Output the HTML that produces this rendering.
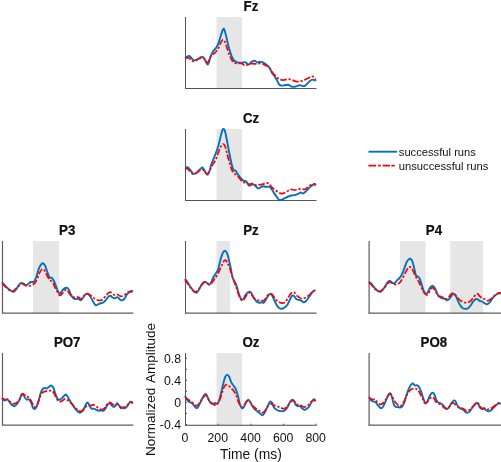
<!DOCTYPE html>
<html><head><meta charset="utf-8"><title>ERP</title>
<style>html,body{margin:0;padding:0;background:#fff;}body{width:501px;height:462px;overflow:hidden;}svg{display:block;will-change:transform;}text{font-family:"Liberation Sans",sans-serif;fill:#111;}</style>
</head><body>
<svg width="501" height="462" viewBox="0 0 501 462">
<rect x="0" y="0" width="501" height="462" fill="#ffffff"/>
<g>
<rect x="216.5" y="17.0" width="25.5" height="71.5" fill="#E6E6E6"/>
<path d="M185.5 17.0 V89.0" fill="none" stroke="#555555" stroke-width="1.0"/>
<path d="M185.0 88.5 H316.5" fill="none" stroke="#555555" stroke-width="1.0"/>
<path d="M184.9 58.0C185.6 57.6 187.7 56.0 188.7 55.9C189.7 55.8 190.3 56.9 191.1 57.6C191.9 58.3 192.6 59.9 193.6 60.2C194.6 60.6 195.7 60.1 196.8 59.7C197.9 59.3 199.1 58.1 200.1 57.6C201.1 57.1 202.0 56.5 202.8 56.9C203.6 57.2 204.1 58.4 204.9 59.7C205.7 61.0 206.7 64.1 207.4 64.5C208.1 64.9 208.5 63.5 209.0 62.1C209.5 60.8 209.9 58.2 210.6 56.4C211.3 54.6 212.1 53.0 213.0 51.5C213.9 50.0 215.4 49.0 216.3 47.5C217.2 46.0 217.9 44.8 218.7 42.6C219.5 40.4 220.4 36.8 221.2 34.5C222.0 32.2 222.7 29.4 223.3 28.8C223.9 28.2 224.3 29.4 224.9 31.2C225.5 33.0 226.2 36.4 226.9 39.4C227.6 42.4 228.5 46.3 229.3 49.1C230.1 51.9 230.9 54.5 231.7 56.4C232.5 58.3 233.2 59.5 234.2 60.5C235.1 61.5 236.2 62.0 237.4 62.4C238.6 62.8 240.3 62.9 241.5 62.9C242.7 62.9 243.8 62.0 244.7 62.1C245.6 62.2 246.5 63.3 247.2 63.7C247.9 64.1 248.1 64.8 248.8 64.5C249.5 64.2 250.6 62.6 251.2 62.1C251.8 61.6 251.8 61.5 252.4 61.3C253.0 61.1 254.1 60.6 254.9 60.8C255.7 61.0 256.5 62.2 257.3 62.4C258.1 62.6 258.9 61.8 259.7 61.8C260.5 61.8 261.4 61.8 262.2 62.1C263.0 62.4 263.8 62.9 264.6 63.4C265.4 63.9 266.3 64.6 267.1 65.3C267.9 66.0 268.7 66.6 269.5 67.8C270.3 69.0 271.1 71.3 271.9 72.7C272.7 74.1 273.6 74.7 274.4 75.9C275.2 77.1 276.0 78.6 276.8 80.0C277.6 81.4 278.4 83.6 279.2 84.5C280.0 85.4 280.8 85.5 281.7 85.6C282.6 85.7 283.8 85.3 284.9 85.2C286.0 85.1 287.2 84.7 288.2 84.8C289.1 84.9 289.8 85.8 290.6 86.1C291.4 86.4 292.2 86.8 293.0 86.9C293.8 87.0 294.7 86.7 295.5 86.5C296.3 86.3 297.1 85.8 297.9 85.6C298.7 85.4 299.5 85.1 300.3 85.2C301.1 85.3 302.0 86.0 302.8 86.1C303.6 86.2 304.4 86.1 305.2 85.6C306.0 85.1 306.9 84.0 307.7 83.2C308.5 82.4 309.3 81.4 310.1 80.8C310.9 80.2 311.7 79.7 312.5 79.6C313.3 79.5 314.4 80.2 315.0 80.3C315.6 80.4 316.1 80.0 316.3 80.0" fill="none" stroke="#0072BD" stroke-width="1.90" stroke-linejoin="round"/>
<path d="M185.0 58.5C185.5 58.4 187.0 57.5 187.9 57.6C188.8 57.7 189.5 58.6 190.3 59.2C191.1 59.8 191.8 61.1 192.7 61.3C193.6 61.5 194.9 61.0 196.0 60.5C197.1 60.0 198.1 59.0 199.2 58.5C200.3 58.0 201.6 57.4 202.5 57.6C203.4 57.8 204.2 58.8 204.9 59.7C205.7 60.6 206.3 62.8 207.0 62.9C207.7 63.0 208.3 61.7 209.0 60.5C209.7 59.3 210.5 56.8 211.4 55.6C212.3 54.4 213.6 54.3 214.7 53.2C215.8 52.1 216.9 50.7 217.9 49.1C218.9 47.5 219.6 45.0 220.4 43.4C221.2 41.8 222.1 40.0 222.8 39.7C223.6 39.4 224.2 40.5 224.9 41.8C225.6 43.1 226.2 45.3 226.9 47.5C227.6 49.7 228.5 52.8 229.3 54.8C230.1 56.8 230.9 58.4 231.7 59.7C232.5 61.1 233.2 62.3 234.2 62.9C235.1 63.5 236.2 63.3 237.4 63.4C238.6 63.5 240.3 63.1 241.5 63.4C242.7 63.7 243.8 65.0 244.7 65.3C245.6 65.6 246.2 65.3 247.2 65.0C248.1 64.7 249.4 63.9 250.4 63.7C251.4 63.5 252.2 63.7 253.2 63.7C254.2 63.8 255.4 64.0 256.5 64.0C257.6 64.0 258.6 63.4 259.7 63.4C260.8 63.4 261.9 63.6 263.0 64.0C264.1 64.4 265.1 65.1 266.2 65.7C267.3 66.3 268.6 66.8 269.5 67.8C270.4 68.8 271.1 70.6 271.9 71.8C272.7 73.0 273.6 73.9 274.4 74.8C275.2 75.7 276.0 76.3 276.8 77.0C277.6 77.7 278.2 78.7 279.2 79.2C280.1 79.7 281.4 79.9 282.5 80.0C283.6 80.1 284.6 79.7 285.7 79.6C286.8 79.5 287.9 79.1 289.0 79.2C290.1 79.3 291.1 79.7 292.2 80.0C293.3 80.3 294.4 81.0 295.5 81.3C296.6 81.6 297.6 81.7 298.7 81.6C299.8 81.5 300.9 81.1 302.0 80.8C303.1 80.5 304.1 80.1 305.2 79.6C306.3 79.1 307.4 78.5 308.5 78.0C309.6 77.5 310.8 76.6 311.7 76.4C312.6 76.2 313.0 76.5 313.7 77.0C314.4 77.5 315.4 78.8 315.8 79.2" fill="none" stroke="#FF0000" stroke-width="1.75" stroke-dasharray="6.4 1.8 2.3 1.8" stroke-linejoin="round"/>
<text transform="translate(251.0 10.6) scale(1 1.06)" font-size="13.3" font-weight="bold" text-anchor="middle" fill="#000" stroke="#000" stroke-width="0.2">Fz</text>
</g>
<g>
<rect x="216.5" y="129.0" width="25.5" height="71.5" fill="#E6E6E6"/>
<path d="M185.5 129.0 V201.0" fill="none" stroke="#555555" stroke-width="1.0"/>
<path d="M185.0 200.5 H316.5" fill="none" stroke="#555555" stroke-width="1.0"/>
<path d="M184.9 167.6C185.4 167.6 187.0 166.9 187.9 167.3C188.8 167.7 189.4 168.9 190.3 170.0C191.2 171.1 192.5 173.4 193.6 173.8C194.7 174.2 195.7 173.3 196.8 172.5C197.9 171.7 199.2 170.0 200.1 169.2C201.0 168.4 201.7 167.3 202.5 167.6C203.3 167.9 204.1 170.0 204.9 171.2C205.7 172.4 206.7 174.8 207.4 174.9C208.1 175.0 208.6 173.4 209.3 171.7C210.0 169.9 210.5 167.0 211.4 164.4C212.3 161.8 213.6 159.0 214.7 156.2C215.8 153.3 216.9 150.4 217.9 147.3C218.9 144.2 219.7 140.4 220.4 137.6C221.1 134.8 221.8 131.6 222.3 130.2C222.8 128.8 223.2 128.8 223.6 128.9C224.0 129.1 224.3 129.2 224.9 131.1C225.5 132.9 226.2 136.3 226.9 140.0C227.6 143.7 228.5 148.9 229.3 153.0C230.1 157.1 231.0 161.6 231.7 164.4C232.4 167.2 233.0 168.9 233.7 170.0C234.4 171.1 235.1 170.1 235.8 170.9C236.6 171.7 237.2 173.6 238.2 174.9C239.1 176.2 240.6 178.0 241.5 179.0C242.4 180.0 243.1 180.5 243.9 180.9C244.7 181.3 245.5 180.6 246.3 181.4C247.1 182.2 248.0 184.9 248.8 185.5C249.6 186.1 250.3 185.3 250.9 185.1C251.5 184.9 251.7 184.1 252.4 184.2C253.1 184.3 253.9 184.8 254.9 185.5C255.9 186.2 257.2 188.1 258.1 188.4C259.1 188.7 259.8 187.8 260.6 187.4C261.4 187.1 262.1 186.4 263.0 186.3C263.9 186.2 265.1 186.7 266.2 186.8C267.3 186.9 268.6 186.4 269.5 186.8C270.4 187.2 271.1 188.4 271.9 189.5C272.7 190.6 273.6 192.4 274.4 193.6C275.2 194.8 276.0 195.7 276.8 196.8C277.6 197.9 278.4 199.6 279.2 200.1C280.0 200.6 280.8 200.1 281.7 199.8C282.6 199.5 283.8 198.7 284.9 198.1C286.0 197.5 287.1 196.9 288.2 196.5C289.3 196.1 290.3 195.7 291.4 195.5C292.5 195.3 293.6 195.5 294.7 195.2C295.8 194.9 296.9 194.3 297.9 193.9C298.9 193.5 299.9 192.6 300.7 192.5C301.5 192.4 302.1 193.7 302.8 193.6C303.6 193.5 304.4 192.7 305.2 192.0C306.0 191.3 306.9 190.3 307.7 189.5C308.5 188.7 309.3 187.8 310.1 187.1C310.9 186.4 311.7 185.6 312.5 185.1C313.3 184.6 314.4 184.3 315.0 184.2C315.6 184.1 316.1 184.6 316.3 184.7" fill="none" stroke="#0072BD" stroke-width="1.90" stroke-linejoin="round"/>
<path d="M185.0 168.4C185.5 168.5 187.0 168.4 187.9 168.9C188.8 169.4 189.4 170.8 190.3 171.7C191.2 172.6 192.2 173.8 193.1 174.1C194.0 174.4 195.0 173.8 196.0 173.3C197.0 172.8 198.1 171.5 199.2 170.9C200.3 170.3 201.6 169.4 202.5 169.6C203.4 169.8 204.1 171.4 204.9 172.2C205.7 172.9 206.6 174.5 207.4 174.1C208.2 173.7 209.0 171.5 209.8 170.0C210.6 168.5 211.2 166.8 212.2 165.2C213.1 163.6 214.6 162.2 215.5 160.3C216.4 158.4 217.1 156.0 217.9 153.8C218.7 151.6 219.6 148.9 220.4 147.3C221.2 145.7 222.1 144.4 222.8 144.1C223.6 143.8 224.2 144.2 224.9 145.7C225.6 147.2 226.2 150.3 226.9 153.0C227.6 155.7 228.5 159.1 229.3 161.9C230.1 164.7 230.9 167.7 231.7 169.6C232.5 171.5 233.2 172.3 234.2 173.3C235.1 174.3 236.3 174.6 237.4 175.7C238.5 176.8 239.8 178.7 240.7 179.8C241.6 180.9 242.2 181.7 243.1 182.2C244.0 182.7 245.2 182.7 246.3 183.0C247.4 183.3 248.4 184.1 249.6 184.2C250.8 184.3 252.0 183.3 253.2 183.5C254.3 183.7 255.4 185.3 256.5 185.5C257.6 185.7 258.6 184.9 259.7 184.7C260.8 184.5 261.9 184.5 263.0 184.2C264.1 183.9 265.2 183.1 266.2 183.0C267.2 182.9 268.2 183.1 269.2 183.8C270.1 184.5 270.9 186.4 271.9 187.4C272.9 188.4 274.1 189.2 275.2 190.0C276.3 190.8 277.3 191.7 278.4 192.3C279.5 192.9 280.6 193.5 281.7 193.6C282.8 193.7 283.8 193.3 284.9 192.8C286.0 192.3 287.1 191.2 288.2 190.7C289.3 190.1 290.3 189.6 291.4 189.5C292.5 189.4 293.6 190.0 294.7 190.0C295.8 190.0 296.8 189.7 297.9 189.5C299.0 189.3 300.1 188.7 301.2 188.7C302.3 188.7 303.3 189.7 304.4 189.5C305.5 189.3 306.6 188.2 307.7 187.4C308.8 186.6 310.0 185.3 310.9 184.7C311.8 184.1 312.5 183.7 313.3 183.8C314.1 183.9 315.4 184.9 315.8 185.1" fill="none" stroke="#FF0000" stroke-width="1.75" stroke-dasharray="6.4 1.8 2.3 1.8" stroke-linejoin="round"/>
<text transform="translate(251.0 122.5) scale(1 1.06)" font-size="13.3" font-weight="bold" text-anchor="middle" fill="#000" stroke="#000" stroke-width="0.2">Cz</text>
</g>
<g>
<rect x="33.0" y="241.0" width="26.0" height="72.1" fill="#E6E6E6"/>
<path d="M2.5 241.0 V313.6" fill="none" stroke="#5c5c5c" stroke-width="1.2"/>
<path d="M2.0 313.1 H133.3" fill="none" stroke="#5c5c5c" stroke-width="1.2"/>
<path d="M1.9 282.0C2.4 282.6 3.9 284.2 4.9 285.3C5.9 286.4 7.0 287.6 8.1 288.5C9.2 289.4 10.4 290.4 11.4 291.0C12.4 291.6 13.0 292.1 13.8 291.8C14.6 291.5 15.4 290.4 16.2 289.3C17.0 288.2 17.9 286.4 18.7 285.3C19.5 284.2 20.3 283.2 21.1 282.9C21.9 282.6 22.8 283.3 23.6 283.7C24.4 284.1 25.2 285.3 26.0 285.3C26.8 285.3 27.6 284.2 28.4 283.7C29.2 283.1 29.9 282.4 30.9 282.0C31.8 281.6 33.2 282.5 34.1 281.6C35.0 280.7 35.7 278.6 36.5 276.4C37.3 274.2 38.2 270.2 39.0 268.2C39.8 266.2 40.7 265.0 41.4 264.2C42.1 263.4 42.4 263.1 43.0 263.4C43.6 263.7 44.5 264.4 45.2 265.8C45.9 267.2 46.4 269.6 47.1 271.5C47.8 273.4 48.7 276.1 49.5 277.2C50.3 278.3 51.2 277.2 52.0 278.0C52.8 278.8 53.6 280.2 54.4 282.0C55.2 283.8 56.0 286.6 56.8 288.5C57.6 290.4 58.5 292.8 59.3 293.4C60.1 293.9 60.6 292.6 61.4 291.8C62.2 291.0 63.3 289.2 64.2 288.5C65.1 287.8 65.9 287.6 66.6 287.7C67.3 287.8 67.8 288.1 68.6 289.3C69.3 290.5 70.3 293.5 71.1 295.0C71.9 296.5 72.7 297.6 73.5 298.3C74.3 299.0 75.1 299.0 75.9 299.1C76.7 299.2 77.6 298.6 78.4 298.8C79.2 299.0 80.0 300.6 80.8 300.4C81.6 300.2 82.4 298.5 83.2 297.5C84.0 296.5 84.9 294.8 85.7 294.2C86.5 293.6 87.1 293.6 87.8 293.9C88.5 294.2 89.0 294.8 89.7 295.8C90.4 296.8 91.4 298.5 92.2 299.9C93.0 301.3 93.9 303.1 94.6 304.0C95.3 304.9 95.5 305.3 96.2 305.3C96.9 305.3 97.9 304.4 98.7 304.0C99.5 303.6 100.3 303.5 101.1 303.2C101.9 302.9 102.7 302.9 103.5 302.3C104.3 301.8 105.2 300.8 106.0 299.9C106.8 299.0 107.7 297.4 108.4 296.7C109.2 296.0 109.8 295.7 110.5 295.8C111.2 295.9 111.8 297.1 112.5 297.5C113.2 297.9 114.1 298.4 114.9 298.3C115.7 298.2 116.5 296.9 117.3 297.1C118.1 297.3 119.0 298.8 119.8 299.4C120.6 299.9 121.4 300.6 122.2 300.4C123.0 300.2 123.9 299.3 124.7 298.3C125.5 297.3 126.3 295.2 127.1 294.2C127.9 293.2 128.7 292.8 129.5 292.3C130.3 291.8 131.4 291.2 132.0 291.0C132.6 290.8 132.7 291.2 132.8 291.3" fill="none" stroke="#0072BD" stroke-width="1.90" stroke-linejoin="round"/>
<path d="M2.0 283.7C2.5 284.1 3.9 285.2 4.9 286.1C5.9 287.0 6.9 288.4 8.1 289.3C9.3 290.2 11.0 291.3 12.2 291.3C13.4 291.3 14.3 290.2 15.4 289.3C16.5 288.4 17.6 287.0 18.7 286.1C19.8 285.2 20.9 283.9 21.9 283.7C22.8 283.5 23.4 284.4 24.4 284.8C25.3 285.2 26.4 286.0 27.6 286.1C28.8 286.2 30.5 285.8 31.7 285.3C32.9 284.8 33.9 284.1 34.9 282.9C35.9 281.7 36.6 279.8 37.4 278.0C38.2 276.2 39.0 273.8 39.8 272.3C40.6 270.8 41.4 269.3 42.2 269.0C43.0 268.7 43.9 269.6 44.7 270.7C45.5 271.8 46.3 274.0 47.1 275.5C47.9 277.0 48.5 278.4 49.5 279.6C50.5 280.8 51.7 281.3 52.8 282.9C53.9 284.5 54.9 287.3 56.0 289.3C57.1 291.3 58.3 294.2 59.3 295.0C60.2 295.8 60.9 294.9 61.7 294.2C62.5 293.5 63.4 291.8 64.2 291.0C65.0 290.2 65.7 289.3 66.6 289.7C67.5 290.1 68.5 292.2 69.4 293.4C70.3 294.6 71.0 296.0 71.9 296.7C72.9 297.4 74.0 297.4 75.1 297.5C76.2 297.6 77.5 296.8 78.4 297.1C79.4 297.4 80.0 299.2 80.8 299.1C81.6 299.0 82.4 297.6 83.2 296.7C84.0 295.8 84.8 294.3 85.7 293.9C86.7 293.5 87.8 293.7 88.9 294.2C90.0 294.7 91.1 295.9 92.2 296.7C93.3 297.5 94.3 298.5 95.4 299.1C96.5 299.7 97.6 300.3 98.7 300.4C99.8 300.5 100.8 300.5 101.9 299.9C103.0 299.3 104.1 297.9 105.2 296.7C106.3 295.5 107.5 293.6 108.4 292.9C109.4 292.2 110.0 291.9 110.9 292.3C111.9 292.7 113.0 294.6 114.1 295.0C115.2 295.4 116.2 294.3 117.3 294.5C118.4 294.7 119.5 296.0 120.6 296.2C121.7 296.4 122.7 296.1 123.8 295.5C124.9 294.9 126.0 293.3 127.1 292.6C128.2 291.9 129.4 291.4 130.3 291.3C131.2 291.2 132.1 292.1 132.5 292.3" fill="none" stroke="#FF0000" stroke-width="1.75" stroke-dasharray="6.4 1.8 2.3 1.8" stroke-linejoin="round"/>
<text transform="translate(67.2 234.6) scale(1 1.06)" font-size="13.3" font-weight="bold" text-anchor="middle" fill="#000" stroke="#000" stroke-width="0.2">P3</text>
</g>
<g>
<rect x="216.5" y="241.0" width="13.5" height="72.1" fill="#E6E6E6"/>
<path d="M185.5 241.0 V313.6" fill="none" stroke="#555555" stroke-width="1.0"/>
<path d="M185.0 313.1 H316.5" fill="none" stroke="#5c5c5c" stroke-width="1.2"/>
<path d="M185.0 278.8C185.5 279.5 186.9 281.4 187.9 282.9C188.9 284.4 190.0 286.2 191.1 287.7C192.2 289.2 193.4 291.0 194.4 291.8C195.4 292.6 196.0 293.0 196.8 292.6C197.6 292.2 198.4 290.7 199.2 289.3C200.0 287.9 200.9 285.7 201.7 284.5C202.5 283.3 203.3 282.3 204.1 282.0C204.9 281.7 205.8 282.0 206.6 282.5C207.4 283.0 208.3 284.7 209.0 284.8C209.7 284.9 210.2 284.0 210.9 282.9C211.6 281.8 212.2 279.5 213.0 278.0C213.8 276.5 214.7 275.2 215.5 273.9C216.3 272.5 217.1 272.2 217.9 269.9C218.7 267.6 219.6 263.0 220.4 260.1C221.2 257.2 222.1 254.4 222.8 252.8C223.6 251.2 224.2 250.7 224.9 250.7C225.6 250.7 226.2 251.4 226.9 252.8C227.6 254.2 228.1 256.6 228.8 259.3C229.5 262.0 230.3 266.0 230.9 269.0C231.5 272.0 231.9 275.1 232.5 277.2C233.1 279.3 233.9 280.1 234.6 281.6C235.3 283.1 235.9 284.0 236.6 286.1C237.3 288.2 238.2 292.0 239.0 294.2C239.8 296.4 240.4 298.2 241.1 299.1C241.8 300.0 242.4 300.1 243.1 299.4C243.8 298.7 244.7 296.2 245.5 295.0C246.3 293.8 247.2 292.8 248.0 292.3C248.8 291.8 249.8 291.5 250.4 291.8C251.1 292.1 251.3 293.1 251.9 294.2C252.5 295.3 253.3 297.1 254.1 298.3C254.9 299.5 255.7 300.8 256.5 301.5C257.3 302.2 258.0 302.6 258.9 302.7C259.8 302.8 260.9 302.3 261.7 302.3C262.5 302.3 263.1 303.2 263.8 302.7C264.6 302.2 265.4 300.4 266.2 299.1C267.0 297.8 267.9 295.9 268.7 295.0C269.5 294.1 270.1 293.6 270.8 293.9C271.5 294.2 272.0 295.3 272.7 296.7C273.4 298.1 274.4 300.7 275.2 302.3C276.0 303.9 276.8 305.4 277.6 306.4C278.4 307.4 279.2 308.1 280.0 308.5C280.8 308.9 281.7 308.7 282.5 308.5C283.3 308.3 284.1 307.8 284.9 307.2C285.7 306.6 286.6 306.0 287.4 304.8C288.2 303.6 289.0 301.4 289.8 299.9C290.6 298.4 291.5 296.4 292.2 295.8C292.9 295.2 293.5 295.6 294.2 296.2C294.9 296.8 295.6 298.5 296.3 299.1C297.1 299.7 297.9 299.6 298.7 299.9C299.5 300.2 300.4 300.3 301.2 300.7C302.0 301.1 302.8 302.2 303.6 302.3C304.4 302.4 305.2 301.8 306.0 301.0C306.8 300.2 307.7 298.9 308.5 297.8C309.3 296.7 310.1 295.3 310.9 294.2C311.7 293.1 312.5 292.0 313.3 291.3C314.1 290.6 315.1 290.4 315.5 290.2" fill="none" stroke="#0072BD" stroke-width="1.90" stroke-linejoin="round"/>
<path d="M185.0 279.9C185.5 280.5 186.9 282.3 187.9 283.7C188.9 285.1 190.0 287.1 191.1 288.5C192.2 289.9 193.6 291.4 194.7 291.8C195.8 292.2 196.6 291.6 197.6 290.6C198.6 289.7 199.9 287.4 200.9 286.1C201.9 284.8 202.9 283.6 203.8 282.9C204.7 282.2 205.3 281.8 206.1 282.0C206.9 282.2 207.8 284.0 208.7 284.2C209.6 284.4 210.4 284.1 211.4 283.2C212.4 282.3 213.6 280.4 214.7 278.8C215.8 277.2 216.8 275.9 217.9 273.9C219.0 271.9 220.2 268.7 221.2 266.6C222.1 264.5 222.9 262.5 223.6 261.4C224.3 260.3 224.9 259.8 225.6 260.1C226.3 260.4 226.9 261.9 227.7 263.4C228.4 264.9 229.3 266.7 230.1 269.0C230.9 271.3 231.7 274.8 232.5 277.2C233.3 279.6 234.2 281.4 235.0 283.7C235.8 286.0 236.6 288.7 237.4 291.0C238.2 293.3 239.0 295.9 239.8 297.5C240.6 299.1 241.5 300.3 242.3 300.4C243.1 300.5 243.9 299.3 244.7 298.3C245.5 297.3 246.4 295.1 247.2 294.2C248.0 293.2 248.7 292.3 249.6 292.6C250.5 292.9 251.5 294.7 252.4 295.8C253.3 296.9 253.9 298.3 254.9 299.1C255.9 299.9 257.0 300.2 258.1 300.4C259.2 300.6 260.4 300.3 261.4 300.4C262.3 300.4 263.0 301.2 263.8 300.7C264.6 300.2 265.4 298.6 266.2 297.5C267.0 296.4 267.9 294.8 268.7 294.2C269.5 293.6 270.3 293.6 271.1 293.9C271.9 294.2 272.8 295.2 273.6 296.2C274.4 297.2 275.1 298.9 276.0 299.9C276.9 300.9 278.1 301.8 279.2 302.3C280.3 302.9 281.6 303.2 282.5 303.2C283.4 303.2 284.1 303.0 284.9 302.3C285.7 301.6 286.6 300.3 287.4 299.1C288.2 297.9 289.0 296.1 289.8 295.0C290.6 293.9 291.5 292.8 292.2 292.3C292.9 291.9 293.5 291.9 294.2 292.3C294.9 292.8 295.6 294.2 296.3 295.0C297.1 295.8 297.8 296.5 298.7 297.1C299.6 297.7 300.9 298.7 302.0 298.8C303.1 298.9 304.1 298.3 305.2 297.8C306.3 297.3 307.6 296.5 308.5 295.8C309.4 295.1 310.1 294.2 310.9 293.4C311.7 292.6 312.6 291.5 313.3 291.0C314.0 290.5 314.7 290.7 315.0 290.6" fill="none" stroke="#FF0000" stroke-width="1.75" stroke-dasharray="6.4 1.8 2.3 1.8" stroke-linejoin="round"/>
<text transform="translate(251.0 234.6) scale(1 1.06)" font-size="13.3" font-weight="bold" text-anchor="middle" fill="#000" stroke="#000" stroke-width="0.2">Pz</text>
</g>
<g>
<rect x="400.0" y="241.0" width="25.5" height="72.1" fill="#E6E6E6"/>
<rect x="450.3" y="241.0" width="32.7" height="72.1" fill="#E6E6E6"/>
<path d="M369.1 241.0 V313.6" fill="none" stroke="#5c5c5c" stroke-width="1.2"/>
<path d="M368.6 313.1 H501.0" fill="none" stroke="#5c5c5c" stroke-width="1.2"/>
<path d="M368.9 281.6C369.4 282.1 370.9 283.4 371.9 284.5C372.9 285.6 374.0 287.4 375.1 288.5C376.2 289.6 377.4 290.8 378.4 291.3C379.3 291.9 380.0 292.1 380.8 291.8C381.6 291.5 382.4 290.4 383.2 289.3C384.0 288.2 384.9 286.6 385.7 285.3C386.5 284.0 387.4 282.3 388.1 281.6C388.8 280.9 389.4 280.7 390.1 280.9C390.8 281.1 391.5 282.5 392.2 282.9C392.9 283.3 393.5 283.6 394.3 283.2C395.1 282.8 396.1 281.3 397.0 280.4C397.9 279.5 398.7 278.9 399.5 278.0C400.3 277.1 401.1 276.3 401.9 274.7C402.7 273.1 403.6 270.4 404.4 268.2C405.2 266.0 406.1 263.2 406.8 261.7C407.6 260.2 408.3 259.8 408.9 259.3C409.5 258.8 409.9 258.4 410.5 258.8C411.1 259.2 411.9 260.0 412.5 261.7C413.1 263.4 413.8 266.7 414.4 269.0C415.0 271.3 415.4 274.2 416.0 275.5C416.6 276.8 417.6 276.1 418.2 276.7C418.8 277.2 419.2 277.4 419.8 278.8C420.4 280.2 421.2 283.3 421.9 285.3C422.6 287.3 423.1 289.6 423.8 291.0C424.5 292.4 425.5 293.9 426.3 293.9C427.1 293.9 427.7 292.2 428.4 291.0C429.1 289.8 430.0 287.8 430.7 286.9C431.4 286.0 432.1 285.5 432.8 285.8C433.5 286.1 434.3 287.1 435.1 288.5C435.9 289.9 436.7 292.8 437.5 294.2C438.3 295.6 439.1 296.4 439.9 297.1C440.7 297.8 441.6 298.0 442.4 298.3C443.2 298.6 444.0 298.5 444.8 298.8C445.6 299.1 446.4 300.5 447.2 300.4C448.0 300.3 448.9 299.2 449.7 298.3C450.5 297.4 451.4 295.7 452.1 295.0C452.8 294.3 453.4 293.6 454.1 293.9C454.8 294.2 455.4 295.3 456.2 296.7C456.9 298.1 457.8 300.7 458.6 302.3C459.4 303.9 460.2 305.4 461.0 306.4C461.8 307.4 462.4 308.1 463.2 308.5C464.0 308.9 465.0 308.9 465.9 308.8C466.8 308.7 467.6 308.6 468.4 308.0C469.2 307.4 470.0 306.4 470.8 305.3C471.6 304.2 472.4 302.5 473.2 301.5C474.0 300.5 474.9 299.5 475.7 299.1C476.5 298.8 477.1 299.1 477.8 299.4C478.5 299.7 479.0 300.6 479.7 301.0C480.4 301.4 481.4 301.1 482.2 301.5C483.0 301.9 483.8 302.7 484.6 303.2C485.4 303.7 486.2 304.4 487.0 304.3C487.8 304.2 488.7 303.6 489.5 302.7C490.3 301.8 491.1 300.2 491.9 299.1C492.7 298.0 493.5 297.0 494.3 296.2C495.1 295.4 496.0 294.8 496.8 294.2C497.6 293.6 498.5 293.2 499.2 292.9C499.9 292.6 500.7 292.7 501.0 292.6" fill="none" stroke="#0072BD" stroke-width="1.90" stroke-linejoin="round"/>
<path d="M369.0 282.5C369.5 283.0 370.9 284.2 371.9 285.3C372.9 286.4 373.9 288.0 375.1 289.0C376.3 290.0 378.0 291.2 379.2 291.3C380.4 291.4 381.3 290.6 382.4 289.7C383.5 288.8 384.6 287.3 385.7 286.1C386.8 284.9 387.9 283.1 388.9 282.5C389.8 281.9 390.6 282.2 391.4 282.5C392.2 282.8 392.9 283.9 393.8 284.2C394.7 284.5 395.9 284.9 397.0 284.5C398.1 284.1 399.2 283.4 400.3 282.0C401.4 280.6 402.4 278.4 403.5 276.4C404.6 274.4 405.9 271.5 406.8 269.9C407.8 268.3 408.4 267.2 409.2 266.9C410.0 266.6 410.9 267.2 411.7 268.2C412.5 269.2 413.3 271.5 414.1 273.1C414.9 274.7 415.7 276.5 416.5 278.0C417.3 279.5 418.2 280.4 419.0 282.0C419.8 283.6 420.6 285.7 421.4 287.4C422.2 289.1 422.9 291.0 423.8 292.3C424.7 293.6 425.9 294.9 426.8 295.0C427.7 295.1 428.3 293.7 429.0 292.6C429.7 291.5 430.5 289.3 431.2 288.5C431.9 287.7 432.6 287.4 433.4 288.0C434.2 288.6 435.1 290.7 435.9 292.0C436.7 293.3 437.4 295.0 438.3 295.8C439.2 296.6 440.5 296.3 441.6 296.7C442.7 297.1 443.9 297.9 444.8 298.3C445.7 298.7 446.4 299.2 447.2 298.8C448.0 298.4 448.9 296.7 449.7 295.8C450.5 294.9 451.3 293.7 452.1 293.4C452.9 293.1 453.8 293.6 454.6 294.2C455.4 294.8 456.1 296.1 457.0 297.1C457.9 298.1 459.1 299.5 460.2 300.4C461.3 301.3 462.4 301.9 463.5 302.3C464.6 302.7 465.6 302.8 466.7 302.7C467.8 302.6 469.0 302.2 470.0 301.5C471.0 300.8 471.9 299.5 472.9 298.3C473.8 297.1 474.9 295.2 475.7 294.5C476.5 293.8 477.1 293.6 477.8 293.9C478.5 294.2 479.0 295.5 479.7 296.2C480.4 296.9 481.4 297.8 482.2 298.3C483.0 298.8 483.8 298.7 484.6 299.1C485.4 299.5 486.2 300.6 487.0 300.7C487.8 300.8 488.6 300.4 489.5 299.9C490.4 299.4 491.6 298.4 492.7 297.5C493.8 296.6 495.1 295.2 496.0 294.5C496.9 293.8 497.6 293.6 498.4 293.4C499.2 293.2 500.6 293.4 501.0 293.4" fill="none" stroke="#FF0000" stroke-width="1.75" stroke-dasharray="6.4 1.8 2.3 1.8" stroke-linejoin="round"/>
<text transform="translate(433.9 234.6) scale(1 1.06)" font-size="13.3" font-weight="bold" text-anchor="middle" fill="#000" stroke="#000" stroke-width="0.2">P4</text>
</g>
<g>
<path d="M2.5 353.0 V425.6" fill="none" stroke="#5c5c5c" stroke-width="1.2"/>
<path d="M2.0 425.1 H133.3" fill="none" stroke="#5c5c5c" stroke-width="1.2"/>
<path d="M2.0 398.1C2.4 398.5 3.6 400.3 4.5 400.5C5.4 400.7 6.4 399.1 7.3 399.4C8.2 399.7 8.9 401.2 9.7 402.2C10.5 403.2 11.4 404.7 12.2 405.4C13.0 406.1 13.8 406.5 14.6 406.2C15.4 405.9 16.3 404.9 17.1 403.8C17.9 402.7 18.8 401.2 19.5 399.7C20.2 398.2 20.8 395.8 21.4 394.9C22.0 393.9 22.6 393.6 23.1 394.0C23.7 394.4 24.1 396.4 24.7 397.3C25.3 398.2 26.1 399.4 26.8 399.7C27.6 400.0 28.5 398.8 29.2 399.4C29.9 399.9 30.6 401.6 31.2 403.0C31.8 404.4 32.3 406.5 32.8 407.5C33.3 408.5 33.8 409.2 34.4 409.1C35.0 409.0 35.8 408.4 36.5 407.0C37.2 405.6 38.0 402.8 38.7 400.5C39.4 398.2 40.0 395.1 40.6 393.2C41.2 391.3 41.9 390.1 42.6 389.2C43.3 388.3 44.0 388.1 44.7 388.0C45.5 387.9 46.3 388.7 47.1 388.4C47.9 388.1 48.8 386.9 49.5 386.4C50.2 385.9 50.9 385.3 51.6 385.6C52.3 385.9 53.0 387.0 53.6 388.4C54.2 389.8 54.8 392.2 55.5 394.0C56.2 395.8 57.0 397.9 57.7 398.9C58.4 399.8 59.1 399.8 59.8 399.7C60.5 399.6 61.3 398.8 62.0 398.1C62.7 397.4 63.6 396.3 64.2 395.7C64.8 395.1 65.2 394.4 65.8 394.5C66.3 394.6 67.0 395.8 67.5 396.5C68.0 397.2 68.3 397.9 68.9 398.9C69.5 399.9 70.3 401.4 71.1 402.6C71.9 403.8 72.7 405.1 73.5 406.2C74.3 407.3 75.1 408.6 75.9 409.5C76.7 410.4 77.7 411.4 78.4 411.9C79.1 412.4 79.6 412.9 80.3 412.7C81.0 412.5 81.7 411.7 82.4 410.8C83.1 409.9 83.9 408.7 84.5 407.5C85.1 406.3 85.7 404.6 86.2 403.8C86.8 403.0 87.3 402.3 87.8 402.6C88.3 402.9 88.8 404.4 89.4 405.4C90.0 406.4 90.7 408.1 91.4 408.7C92.1 409.2 93.0 408.5 93.8 408.7C94.6 408.9 95.4 409.4 96.2 409.8C97.0 410.2 97.9 410.7 98.7 410.8C99.5 410.9 100.3 410.3 101.1 410.3C101.9 410.3 102.7 411.2 103.5 410.8C104.3 410.4 105.0 409.2 105.7 408.2C106.4 407.2 106.9 405.4 107.6 404.6C108.2 403.8 108.9 403.2 109.6 403.3C110.3 403.4 111.0 404.8 111.7 405.4C112.4 406.0 113.2 406.9 113.8 407.0C114.4 407.1 114.9 406.5 115.4 405.9C115.9 405.3 116.4 403.4 117.0 403.3C117.6 403.2 118.3 404.6 119.0 405.4C119.7 406.2 120.2 407.8 120.9 408.2C121.6 408.6 122.3 407.8 123.0 407.8C123.7 407.8 124.4 408.5 125.1 408.2C125.8 407.9 126.7 406.8 127.4 405.9C128.1 405.0 128.9 403.3 129.5 402.6C130.1 401.9 130.6 401.6 131.2 401.7C131.8 401.8 132.5 403.0 132.8 403.3" fill="none" stroke="#0072BD" stroke-width="1.90" stroke-linejoin="round"/>
<path d="M2.0 398.1C2.5 398.4 3.9 399.5 4.9 399.7C5.9 399.9 6.8 399.0 7.8 399.4C8.8 399.8 9.7 401.5 10.6 402.2C11.5 402.9 12.4 403.7 13.3 403.8C14.2 403.9 15.2 403.6 16.2 403.0C17.2 402.4 18.3 401.7 19.2 400.5C20.1 399.3 20.7 396.8 21.4 395.7C22.1 394.6 22.9 393.9 23.6 394.0C24.3 394.1 24.9 395.6 25.7 396.2C26.5 396.8 27.5 396.6 28.4 397.3C29.3 398.0 30.1 399.1 30.9 400.5C31.7 401.9 32.5 404.3 33.3 405.4C34.0 406.5 34.7 407.3 35.4 407.0C36.1 406.7 37.0 405.4 37.7 403.8C38.4 402.2 39.0 399.1 39.8 397.3C40.5 395.5 41.3 393.9 42.2 392.9C43.1 391.9 44.1 391.6 45.2 391.3C46.3 391.0 47.6 390.9 48.7 390.8C49.8 390.7 51.0 390.3 52.0 390.8C53.0 391.3 53.6 392.6 54.4 394.0C55.2 395.4 55.9 397.6 56.8 398.9C57.7 400.2 58.8 401.4 59.8 401.7C60.8 402.0 61.6 401.0 62.5 400.5C63.4 400.0 64.4 398.9 65.3 398.9C66.2 398.9 67.2 400.0 67.9 400.5C68.6 401.0 68.7 401.1 69.4 401.7C70.1 402.2 71.0 402.8 71.9 403.8C72.9 404.8 74.0 406.7 75.1 407.8C76.2 408.9 77.4 409.7 78.4 410.3C79.4 410.9 80.3 411.6 81.3 411.4C82.2 411.2 83.2 410.0 84.1 409.1C85.0 408.2 85.7 406.7 86.5 406.2C87.3 405.7 88.1 406.0 88.9 405.9C89.7 405.8 90.6 405.6 91.4 405.4C92.2 405.2 93.0 404.8 93.8 404.9C94.6 405.0 95.4 405.6 96.2 406.2C97.0 406.8 97.8 408.1 98.7 408.7C99.6 409.2 100.5 409.5 101.4 409.5C102.3 409.5 103.2 409.4 104.0 408.7C104.8 408.0 105.6 406.3 106.3 405.4C107.0 404.4 107.7 403.5 108.4 403.0C109.1 402.5 109.8 402.3 110.5 402.6C111.2 402.9 112.1 404.2 112.8 404.6C113.5 405.0 114.2 404.9 114.9 404.9C115.7 404.8 116.5 404.0 117.3 404.3C118.1 404.6 119.0 406.0 119.8 406.5C120.6 407.0 121.4 407.4 122.2 407.5C123.0 407.6 123.9 407.4 124.7 407.0C125.5 406.6 126.3 406.1 127.1 405.4C127.9 404.7 128.8 403.1 129.5 402.6C130.2 402.1 130.6 402.1 131.2 402.2C131.8 402.3 132.5 403.1 132.8 403.3" fill="none" stroke="#FF0000" stroke-width="1.75" stroke-dasharray="6.4 1.8 2.3 1.8" stroke-linejoin="round"/>
<text transform="translate(67.2 346.6) scale(1 1.06)" font-size="13.3" font-weight="bold" text-anchor="middle" fill="#000" stroke="#000" stroke-width="0.2">PO7</text>
</g>
<g>
<rect x="216.5" y="353.0" width="25.5" height="72.2" fill="#E6E6E6"/>
<path d="M185.5 353.0 V425.7" fill="none" stroke="#555555" stroke-width="1.0"/>
<path d="M185.0 425.2 H316.5" fill="none" stroke="#454545" stroke-width="1.1"/>
<path d="M185.5 358.3 h1.5M185.5 369.3 h1.5M185.5 380.4 h1.5M185.5 391.4 h1.5M185.5 402.4 h1.5M185.5 413.4 h1.5M185.5 424.5 h1.5M185.5 425.2 v-1.5M218.2 425.2 v-1.5M250.9 425.2 v-1.5M283.6 425.2 v-1.5M316.3 425.2 v-1.5" fill="none" stroke="#555555" stroke-width="1"/>
<path d="M185.0 395.7C185.3 396.4 186.3 398.6 187.1 399.7C187.8 400.8 188.7 401.6 189.5 402.2C190.3 402.8 191.1 402.3 191.9 403.0C192.7 403.7 193.6 405.3 194.4 406.2C195.2 407.1 196.1 408.3 196.8 408.2C197.6 408.1 198.2 406.7 198.9 405.4C199.6 404.1 200.5 402.0 201.2 400.5C201.9 399.0 202.6 397.6 203.3 396.5C204.0 395.4 204.8 394.1 205.4 394.0C206.0 393.9 206.4 394.6 207.0 395.7C207.6 396.8 208.3 399.2 209.0 400.5C209.7 401.8 210.2 402.8 210.9 403.3C211.6 403.9 212.3 403.9 213.0 403.8C213.7 403.8 214.5 403.0 215.2 403.0C215.9 403.0 216.4 404.2 217.1 403.8C217.8 403.4 218.4 402.4 219.1 400.5C219.8 398.6 220.5 395.2 221.2 392.4C221.9 389.6 222.6 386.1 223.3 383.5C224.0 380.9 224.5 378.5 225.2 377.0C225.8 375.5 226.5 374.6 227.2 374.6C227.9 374.6 228.6 375.6 229.3 377.0C230.0 378.4 230.7 381.2 231.4 382.7C232.1 384.2 233.0 384.8 233.7 385.9C234.4 387.0 235.1 387.6 235.8 389.2C236.5 390.8 237.2 393.3 237.9 395.7C238.6 398.1 239.2 401.7 239.8 403.8C240.5 405.9 241.1 407.7 241.8 408.2C242.5 408.7 243.2 408.0 243.9 407.0C244.6 406.0 245.3 403.4 246.0 402.2C246.7 401.0 247.6 399.7 248.3 399.7C249.0 399.7 249.8 401.2 250.4 402.2C251.0 403.1 251.2 404.2 251.9 405.4C252.6 406.5 253.6 408.1 254.5 409.1C255.4 410.1 256.4 410.7 257.3 411.4C258.2 412.1 259.2 412.9 260.1 413.5C261.0 414.1 261.9 415.3 262.7 415.2C263.4 415.1 264.0 413.8 264.6 412.7C265.2 411.6 265.9 410.2 266.6 408.7C267.3 407.2 268.1 405.0 268.7 403.8C269.3 402.6 269.8 401.6 270.3 401.4C270.8 401.2 271.3 401.6 271.9 402.6C272.5 403.6 273.3 406.4 274.0 407.5C274.7 408.6 275.5 408.9 276.3 409.5C277.1 410.1 278.0 410.5 278.9 410.8C279.8 411.1 280.8 411.1 281.7 411.1C282.6 411.1 283.3 411.2 284.1 410.8C284.9 410.4 285.7 409.7 286.5 408.7C287.3 407.7 288.0 405.9 288.7 404.6C289.4 403.3 290.0 401.8 290.6 401.0C291.2 400.2 292.0 399.6 292.6 399.7C293.2 399.8 293.7 400.5 294.2 401.4C294.7 402.3 295.2 404.1 295.8 404.9C296.4 405.7 297.2 406.0 297.9 406.2C298.6 406.4 299.3 405.9 300.0 406.2C300.7 406.5 301.3 407.6 302.0 408.2C302.7 408.8 303.6 409.7 304.4 409.8C305.2 409.9 306.0 409.3 306.8 408.7C307.6 408.1 308.5 407.3 309.3 406.2C310.1 405.1 310.7 403.3 311.4 402.2C312.1 401.1 313.0 399.8 313.7 399.4C314.4 399.0 315.2 399.9 315.5 400.0" fill="none" stroke="#0072BD" stroke-width="1.90" stroke-linejoin="round"/>
<path d="M185.0 397.3C185.5 397.6 186.9 398.7 187.9 399.4C188.9 400.1 189.9 400.6 190.8 401.3C191.8 402.0 192.7 403.0 193.6 403.8C194.5 404.6 195.4 405.9 196.3 405.9C197.2 405.9 198.0 404.8 198.9 403.8C199.8 402.8 200.8 400.9 201.7 399.7C202.6 398.5 203.4 397.2 204.1 396.5C204.8 395.8 205.4 394.8 206.1 395.2C206.8 395.6 207.4 397.7 208.2 398.9C208.9 400.1 209.7 401.3 210.6 402.2C211.5 403.1 212.6 403.9 213.5 404.3C214.4 404.8 215.4 405.4 216.3 404.9C217.2 404.4 218.2 403.1 219.1 401.3C220.0 399.5 220.9 396.3 221.7 394.0C222.5 391.7 223.2 389.0 223.9 387.5C224.6 386.0 225.2 385.2 226.0 384.8C226.8 384.4 227.7 384.9 228.5 385.4C229.3 385.9 230.0 387.1 230.9 388.0C231.8 388.9 232.8 389.5 233.7 390.8C234.6 392.1 235.5 393.8 236.3 395.7C237.1 397.6 237.8 400.4 238.5 402.2C239.2 403.9 240.0 405.4 240.7 406.2C241.4 407.0 242.1 407.4 242.8 407.0C243.5 406.6 244.3 404.8 245.0 403.8C245.7 402.8 246.4 401.4 247.2 401.0C248.0 400.6 248.6 400.4 249.6 401.3C250.6 402.2 251.8 405.0 252.9 406.2C254.0 407.4 255.1 407.9 256.2 408.7C257.3 409.5 258.4 410.1 259.4 410.8C260.4 411.5 261.3 412.6 262.2 412.7C263.1 412.8 263.8 412.3 264.6 411.4C265.4 410.5 266.3 408.7 267.1 407.5C267.9 406.3 268.7 404.9 269.5 404.3C270.3 403.7 271.1 403.6 271.9 403.8C272.7 404.0 273.4 404.9 274.4 405.4C275.3 405.8 276.5 406.1 277.6 406.5C278.7 406.9 279.8 407.4 280.9 407.8C282.0 408.2 283.2 408.8 284.1 408.7C285.0 408.6 285.7 408.2 286.5 407.5C287.3 406.8 288.2 405.3 289.0 404.3C289.8 403.3 290.6 402.0 291.4 401.4C292.1 400.8 292.8 400.2 293.5 400.5C294.2 400.8 294.8 402.3 295.5 403.0C296.2 403.7 297.0 404.5 297.9 404.9C298.8 405.3 299.8 405.0 300.7 405.4C301.6 405.8 302.7 406.8 303.6 407.0C304.5 407.2 305.2 406.9 306.0 406.5C306.8 406.1 307.7 405.6 308.5 404.9C309.3 404.2 310.1 402.9 310.9 402.2C311.7 401.5 312.5 400.7 313.3 400.5C314.1 400.3 315.4 400.9 315.8 401.0" fill="none" stroke="#FF0000" stroke-width="1.75" stroke-dasharray="6.4 1.8 2.3 1.8" stroke-linejoin="round"/>
<text transform="translate(251.0 346.6) scale(1 1.06)" font-size="13.3" font-weight="bold" text-anchor="middle" fill="#000" stroke="#000" stroke-width="0.2">Oz</text>
</g>
<g>
<path d="M369.1 353.0 V425.6" fill="none" stroke="#5c5c5c" stroke-width="1.2"/>
<path d="M368.6 425.1 H501.0" fill="none" stroke="#5c5c5c" stroke-width="1.2"/>
<path d="M369.0 397.3C369.4 397.8 370.4 399.8 371.1 400.5C371.9 401.2 372.7 401.0 373.5 401.4C374.3 401.8 375.1 401.9 375.9 402.6C376.7 403.4 377.6 405.0 378.4 405.9C379.2 406.8 380.1 408.0 380.8 408.2C381.6 408.4 382.2 407.9 382.9 407.0C383.6 406.1 384.2 404.4 384.9 403.0C385.5 401.6 386.1 399.9 386.8 398.4C387.5 396.9 388.3 394.8 388.9 394.0C389.5 393.2 390.1 392.9 390.6 393.6C391.2 394.3 391.7 396.3 392.2 398.1C392.7 399.9 393.2 403.1 393.8 404.6C394.4 406.1 395.2 406.6 395.9 407.0C396.6 407.4 397.5 406.9 398.2 407.0C398.9 407.1 399.6 407.6 400.3 407.5C401.0 407.4 401.7 407.1 402.4 406.2C403.1 405.3 403.7 404.2 404.4 402.2C405.1 400.2 406.1 396.3 406.8 394.0C407.6 391.7 408.2 389.9 408.9 388.4C409.6 386.9 410.2 385.6 410.9 384.8C411.5 384.0 412.1 383.4 412.8 383.5C413.5 383.6 414.1 385.1 414.9 385.4C415.6 385.7 416.6 385.0 417.3 385.4C418.0 385.8 418.6 386.3 419.3 387.5C420.0 388.7 420.7 390.5 421.4 392.4C422.1 394.3 422.8 397.1 423.5 398.9C424.2 400.7 424.9 402.9 425.5 403.3C426.1 403.7 426.7 402.5 427.4 401.4C428.1 400.3 428.8 397.9 429.5 396.5C430.2 395.1 431.0 393.8 431.6 393.2C432.2 392.6 432.8 392.5 433.3 392.9C433.9 393.3 434.4 394.6 434.9 395.7C435.4 396.8 435.6 398.5 436.2 399.7C436.8 400.9 437.6 402.0 438.3 402.6C439.1 403.2 439.9 402.8 440.7 403.3C441.5 403.8 442.4 404.6 443.2 405.4C444.0 406.2 444.9 407.6 445.6 408.2C446.3 408.8 446.9 409.0 447.6 408.7C448.3 408.4 449.0 407.2 449.7 406.2C450.4 405.2 451.1 403.6 451.8 402.6C452.5 401.7 453.1 400.8 453.7 400.5C454.3 400.2 454.8 400.3 455.4 401.0C455.9 401.7 456.4 403.5 457.0 404.6C457.6 405.7 458.2 406.8 458.9 407.5C459.6 408.2 460.3 408.3 461.0 408.7C461.7 409.1 462.5 409.3 463.2 409.8C463.9 410.3 464.7 411.4 465.4 411.9C466.1 412.4 466.7 412.8 467.5 412.7C468.3 412.6 469.2 412.0 470.0 411.1C470.8 410.2 471.6 408.6 472.4 407.5C473.2 406.4 474.2 405.4 474.9 404.6C475.6 403.8 476.2 402.7 476.8 402.6C477.4 402.6 477.9 403.4 478.4 404.3C478.9 405.2 479.4 407.0 480.0 407.8C480.6 408.6 481.5 409.0 482.2 409.1C482.9 409.2 483.6 408.5 484.3 408.7C485.0 408.9 485.5 409.9 486.2 410.3C486.9 410.8 487.9 411.4 488.7 411.4C489.5 411.4 490.3 410.9 491.1 410.3C491.9 409.7 492.7 408.6 493.5 407.8C494.3 407.0 495.2 406.1 496.0 405.4C496.8 404.6 497.6 403.6 498.4 403.3C499.2 403.0 500.6 403.7 501.0 403.8" fill="none" stroke="#0072BD" stroke-width="1.90" stroke-linejoin="round"/>
<path d="M369.0 397.3C369.5 397.6 370.9 399.0 371.9 399.4C372.9 399.8 373.9 398.9 374.8 399.4C375.8 399.9 376.7 401.8 377.6 402.6C378.5 403.4 379.4 404.2 380.3 404.3C381.2 404.4 382.2 403.9 383.2 403.0C384.2 402.1 385.3 400.2 386.2 398.9C387.1 397.6 387.7 396.0 388.4 395.2C389.1 394.4 389.9 393.6 390.6 394.0C391.3 394.4 392.0 396.0 392.7 397.3C393.4 398.6 394.1 400.5 394.9 401.7C395.7 402.9 396.6 403.9 397.5 404.6C398.4 405.4 399.4 406.3 400.3 406.2C401.2 406.1 401.9 405.0 402.7 403.8C403.5 402.6 404.4 400.6 405.2 398.9C406.0 397.2 406.8 395.0 407.6 393.6C408.4 392.2 409.1 391.1 410.0 390.3C410.9 389.5 411.9 389.0 412.8 388.7C413.8 388.4 414.8 388.4 415.7 388.7C416.6 389.0 417.4 389.3 418.2 390.3C419.0 391.3 419.8 392.9 420.6 394.5C421.4 396.1 422.2 398.2 423.0 399.7C423.8 401.2 424.4 403.0 425.1 403.3C425.8 403.6 426.6 402.5 427.4 401.7C428.2 400.9 429.2 399.1 430.0 398.4C430.8 397.7 431.6 397.2 432.3 397.3C433.0 397.4 433.8 398.2 434.4 398.9C435.0 399.6 435.2 400.9 435.9 401.7C436.6 402.5 437.9 403.3 438.8 403.8C439.8 404.3 440.7 404.2 441.6 404.9C442.5 405.6 443.4 407.1 444.3 407.8C445.2 408.5 446.1 409.2 446.9 409.1C447.7 409.0 448.5 407.9 449.2 407.0C449.9 406.1 450.6 404.5 451.3 403.8C452.0 403.1 452.7 402.8 453.4 403.0C454.1 403.2 454.9 404.2 455.7 404.9C456.5 405.6 457.4 406.5 458.3 407.0C459.2 407.5 460.1 407.4 461.0 407.8C461.9 408.2 462.9 408.6 463.8 409.1C464.8 409.6 465.7 410.7 466.7 410.8C467.7 410.9 468.8 410.4 469.7 409.8C470.6 409.2 471.5 407.9 472.4 407.0C473.3 406.1 474.1 405.0 474.9 404.3C475.7 403.6 476.6 402.4 477.3 402.6C478.1 402.8 478.7 404.5 479.4 405.4C480.1 406.3 480.9 407.7 481.7 408.2C482.5 408.7 483.4 408.0 484.3 408.2C485.2 408.4 486.1 409.4 487.0 409.5C487.9 409.6 488.6 409.4 489.5 409.1C490.4 408.8 491.4 408.1 492.4 407.5C493.3 406.9 494.3 406.1 495.2 405.4C496.1 404.7 496.9 403.6 497.9 403.3C498.9 403.0 500.5 403.7 501.0 403.8" fill="none" stroke="#FF0000" stroke-width="1.75" stroke-dasharray="6.4 1.8 2.3 1.8" stroke-linejoin="round"/>
<text transform="translate(433.9 346.6) scale(1 1.06)" font-size="13.3" font-weight="bold" text-anchor="middle" fill="#000" stroke="#000" stroke-width="0.2">PO8</text>
</g>
<text x="181" y="362.6" font-size="12.3" text-anchor="end">0.8</text>
<text x="181" y="384.7" font-size="12.3" text-anchor="end">0.4</text>
<text x="181" y="406.7" font-size="12.3" text-anchor="end">0</text>
<text x="181" y="428.8" font-size="12.3" text-anchor="end">-0.4</text>
<text x="185.0" y="441.8" font-size="12.3" text-anchor="middle">0</text>
<text x="217.8" y="441.8" font-size="12.3" text-anchor="middle">200</text>
<text x="250.6" y="441.8" font-size="12.3" text-anchor="middle">400</text>
<text x="283.2" y="441.8" font-size="12.3" text-anchor="middle">600</text>
<text x="315.7" y="441.8" font-size="12.3" text-anchor="middle">800</text>
<text x="250.9" y="458.6" font-size="13.85" text-anchor="middle">Time (ms)</text>
<text transform="translate(154.6 389.5) rotate(-90)" font-size="13.5" word-spacing="1.6" text-anchor="middle">Normalized Amplitude</text>
<path d="M368.5 151.7H397" stroke="#0072BD" stroke-width="1.90" fill="none"/>
<path d="M368.4 165.5H376M378.1 165.5H380.8M382.6 165.5H390M391.4 165.5H394.8" stroke="#FF0000" stroke-width="1.75" fill="none"/>
<text x="398.8" y="155.7" font-size="11.2" fill="#000">successful runs</text>
<text x="398.8" y="169.6" font-size="11.2" fill="#000">unsuccessful runs</text>
</svg></body></html>
